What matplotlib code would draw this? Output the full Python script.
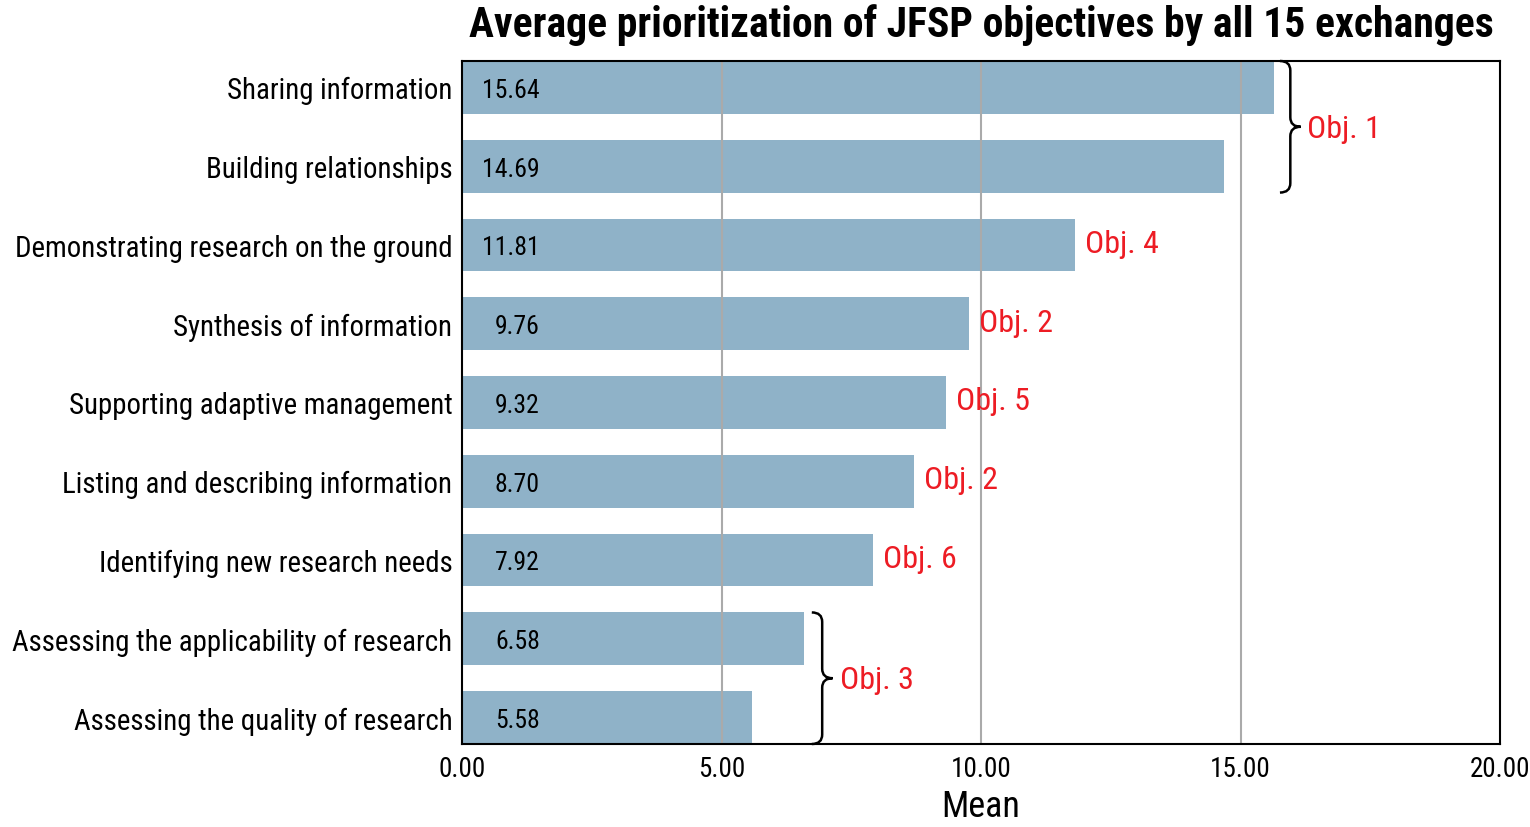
import matplotlib
matplotlib.use("Agg")
import matplotlib.pyplot as plt
from matplotlib import font_manager
from matplotlib.path import Path
from matplotlib.patches import PathPatch

categories = ["Sharing information", "Building relationships",
              "Demonstrating research on the ground", "Synthesis of information",
              "Supporting adaptive management", "Listing and describing information",
              "Identifying new research needs", "Assessing the applicability of research",
              "Assessing the quality of research"]
values = [15.64, 14.69, 11.81, 9.76, 9.32, 8.70, 7.92, 6.58, 5.58]
objectives = ["Obj. 1", "Obj. 1", "Obj. 4", "Obj. 2", "Obj. 5", "Obj. 2", "Obj. 6", "Obj. 3", "Obj. 3"]
xticks = [0, 5, 10, 15, 20]

names = {f.name for f in font_manager.fontManager.ttflist}
fam = "DejaVu Sans"
for cand in ["Roboto Condensed", "Liberation Sans Narrow", "Open Sans Condensed", "Noto Sans Condensed", "Liberation Sans"]:
    if cand in names:
        fam = cand
        break
plt.rcParams['font.family'] = [fam, 'DejaVu Sans']

bar_color = "#8FB2C8"
red = "#ED1C24"

fig = plt.figure(figsize=(15.3, 8.28), dpi=100)
ax = fig.add_axes([462/1530, 1-745/828, (1500-462)/1530, (745-62)/828])

h = 0.67
ypos = list(range(len(categories)))
ax.barh(ypos, values, height=h, color=bar_color, zorder=1)
ax.set_ylim(len(categories) - 1 + h/2, -h/2)
ax.set_xlim(0, 20)
ax.set_xticks(xticks)
ax.set_xticklabels([f"{t:.2f}" for t in xticks], fontsize=19.5)
ax.set_yticks(ypos)
ax.set_yticklabels(categories, fontsize=20.8)
ax.tick_params(axis="y", length=0, pad=7)
ax.tick_params(axis="x", length=0, pad=8)
for t in xticks[1:-1]:
    ax.axvline(t, color="#AAAAAA", lw=1.5, zorder=2)
for s in ax.spines.values():
    s.set_linewidth(1.5)
    s.set_zorder(5)
ax.set_xlabel("Mean", fontsize=26, labelpad=4)
ax.set_title("Average prioritization of JFSP objectives by all 15 exchanges",
             fontsize=30, fontweight="bold", pad=18)

for y, v in zip(ypos, values):
    ax.text(1.5, y + 0.03, f"{v:.2f}", ha="right", va="center", fontsize=18.5, zorder=3)

for y, v, o in zip(ypos, values, objectives):
    if o in ("Obj. 1", "Obj. 3"):
        continue
    ax.text(v + 0.2, y - 0.02, o, ha="left", va="center", fontsize=23, color=red, zorder=3)

def brace(ax, x0, w, y0, y1):
    xm = x0 + w/2
    xt = x0 + w
    ymid = (y0 + y1) / 2
    r = 0.12
    verts = [(x0, y0), (xm, y0), (xm, y0 + r),
             (xm, ymid - r),
             (xm, ymid), (xt, ymid),
             (xm, ymid), (xm, ymid + r),
             (xm, y1 - r),
             (xm, y1), (x0, y1)]
    codes = [Path.MOVETO, Path.CURVE3, Path.CURVE3,
             Path.LINETO,
             Path.CURVE3, Path.CURVE3,
             Path.CURVE3, Path.CURVE3,
             Path.LINETO,
             Path.CURVE3, Path.CURVE3]
    ax.add_patch(PathPatch(Path(verts, codes), fill=False, lw=1.8, color="black",
                           clip_on=False, zorder=4))

brace(ax, 15.76, 0.40, -h/2, 1 + h/2)
ax.text(16.28, 0.52, "Obj. 1", ha="left", va="center", fontsize=23, color=red)
brace(ax, 6.74, 0.40, 7 - h/2, 8 + h/2)
ax.text(7.28, 7.52, "Obj. 3", ha="left", va="center", fontsize=23, color=red)

fig.savefig("out.png", dpi=100)
